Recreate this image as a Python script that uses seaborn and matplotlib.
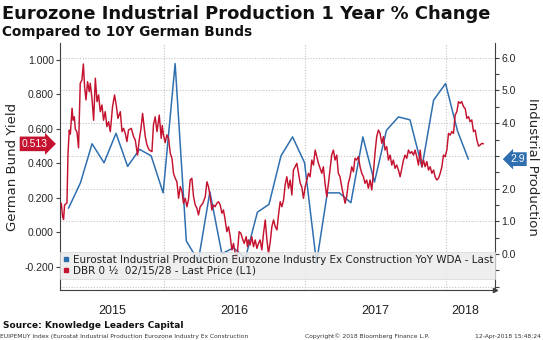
import matplotlib
matplotlib.use("Agg")
import matplotlib.pyplot as plt
import matplotlib.dates as mdates
import matplotlib.transforms as mtransforms
from matplotlib.lines import Line2D
import numpy as np
import pandas as pd
import seaborn as sns

# ---------------- data ----------------
ip_start = "2015-04-30"
ip_yoy = [1.40, 2.18, 3.37, 2.79, 3.69, 2.68, 3.20, 3.00, 1.87, 5.82,
          0.40, -0.21, 1.90, 0.01, 0.19, -0.12, 1.28, 1.52, 3.00, 3.58,
          2.79, -0.27, 1.87, 1.87, 1.57, 3.58, 2.20, 3.78, 4.19, 4.10,
          2.66, 4.70, 5.21, 3.76, 2.90]

bund_t = [2015.275, 2015.284, 2015.291, 2015.298, 2015.315, 2015.322, 2015.331, 2015.339, 2015.351, 2015.358,
          2015.367, 2015.374, 2015.386, 2015.397, 2015.409, 2015.421, 2015.431, 2015.440, 2015.450, 2015.461,
          2015.473, 2015.480, 2015.492, 2015.504, 2015.516, 2015.528, 2015.539, 2015.551, 2015.563, 2015.574,
          2015.586, 2015.598, 2015.610, 2015.622, 2015.638, 2015.652, 2015.664, 2015.676, 2015.693, 2015.705,
          2015.716, 2015.728, 2015.740, 2015.751, 2015.771, 2015.787, 2015.799, 2015.815, 2015.827, 2015.839,
          2015.851, 2015.860, 2015.870, 2015.882, 2015.898, 2015.917, 2015.928, 2015.940, 2015.953, 2015.969,
          2015.983, 2015.990, 2015.999, 2016.011, 2016.023, 2016.035, 2016.047, 2016.059, 2016.070, 2016.082,
          2016.094, 2016.106, 2016.118, 2016.130, 2016.141, 2016.153, 2016.165, 2016.176, 2016.188, 2016.200,
          2016.212, 2016.224, 2016.236, 2016.247, 2016.259, 2016.278, 2016.295, 2016.307, 2016.318, 2016.330,
          2016.342, 2016.353, 2016.365, 2016.377, 2016.389, 2016.401, 2016.413, 2016.424, 2016.436, 2016.448,
          2016.460, 2016.472, 2016.484, 2016.495, 2016.507, 2016.519, 2016.535, 2016.547, 2016.562, 2016.571,
          2016.585, 2016.594, 2016.601, 2016.613, 2016.625, 2016.637, 2016.649, 2016.661, 2016.672, 2016.684,
          2016.696, 2016.708, 2016.720, 2016.732, 2016.743, 2016.755, 2016.767, 2016.779, 2016.791, 2016.803,
          2016.814, 2016.826, 2016.838, 2016.850, 2016.861, 2016.873, 2016.885, 2016.897, 2016.909, 2016.920,
          2016.932, 2016.944, 2016.956, 2016.968, 2016.979, 2016.991, 2017.003, 2017.015, 2017.026, 2017.038,
          2017.050, 2017.062, 2017.074, 2017.086, 2017.097, 2017.109, 2017.121, 2017.132, 2017.144, 2017.156,
          2017.168, 2017.179, 2017.191, 2017.203, 2017.215, 2017.227, 2017.238, 2017.250, 2017.262, 2017.274,
          2017.286, 2017.297, 2017.309, 2017.321, 2017.333, 2017.345, 2017.356, 2017.368, 2017.380, 2017.392,
          2017.404, 2017.416, 2017.427, 2017.439, 2017.451, 2017.463, 2017.475, 2017.486, 2017.498, 2017.510,
          2017.522, 2017.534, 2017.546, 2017.558, 2017.569, 2017.581, 2017.593, 2017.605, 2017.617, 2017.628,
          2017.640, 2017.652, 2017.664, 2017.676, 2017.688, 2017.700, 2017.711, 2017.723, 2017.735, 2017.747,
          2017.759, 2017.771, 2017.782, 2017.794, 2017.806, 2017.818, 2017.830, 2017.842, 2017.853, 2017.865,
          2017.877, 2017.889, 2017.901, 2017.913, 2017.924, 2017.936, 2017.948, 2017.960, 2017.972, 2017.983,
          2017.995, 2018.007, 2018.019, 2018.031, 2018.042, 2018.054, 2018.066, 2018.078, 2018.090, 2018.102,
          2018.113, 2018.125, 2018.137, 2018.149, 2018.161, 2018.172, 2018.184, 2018.196, 2018.208, 2018.220,
          2018.232, 2018.243, 2018.255, 2018.267]
bund_yield = [0.168, 0.090, 0.075, 0.158, 0.170, 0.448, 0.593, 0.570, 0.720, 0.650,
              0.670, 0.600, 0.580, 0.490, 0.865, 0.884, 0.977, 0.845, 0.768, 0.874,
              0.816, 0.865, 0.777, 0.650, 0.894, 0.758, 0.797, 0.700, 0.739, 0.650,
              0.700, 0.613, 0.642, 0.584, 0.729, 0.797, 0.739, 0.661, 0.700, 0.584,
              0.603, 0.574, 0.526, 0.593, 0.603, 0.555, 0.535, 0.448, 0.535, 0.600,
              0.690, 0.623, 0.555, 0.506, 0.477, 0.468, 0.623, 0.670, 0.584, 0.680,
              0.545, 0.620, 0.565, 0.520, 0.565, 0.545, 0.458, 0.429, 0.342, 0.313,
              0.293, 0.197, 0.265, 0.236, 0.168, 0.197, 0.148, 0.187, 0.303, 0.313,
              0.206, 0.158, 0.139, 0.100, 0.148, 0.168, 0.206, 0.293, 0.264, 0.206,
              0.129, 0.158, 0.148, 0.168, 0.177, 0.158, 0.110, 0.129, 0.071, 0.003,
              0.032, -0.026, -0.103, -0.065, -0.123, -0.161, 0.003, -0.006, -0.045, -0.065,
              -0.026, -0.084, -0.045, -0.074, -0.026, -0.084, -0.045, -0.094, -0.065, -0.045,
              -0.103, -0.006, 0.071, -0.045, -0.123, -0.060, 0.032, 0.071, 0.032, 0.013,
              0.100, 0.177, 0.148, 0.187, 0.274, 0.322, 0.255, 0.303, 0.216, 0.361,
              0.380, 0.400, 0.342, 0.284, 0.264, 0.197, 0.264, 0.303, 0.342, 0.322,
              0.419, 0.390, 0.477, 0.438, 0.400, 0.371, 0.342, 0.380, 0.284, 0.206,
              0.284, 0.361, 0.448, 0.477, 0.419, 0.448, 0.342, 0.322, 0.264, 0.216,
              0.168, 0.206, 0.284, 0.322, 0.380, 0.351, 0.429, 0.419, 0.439, 0.380,
              0.342, 0.322, 0.284, 0.303, 0.255, 0.303, 0.245, 0.342, 0.460, 0.555,
              0.593, 0.574, 0.516, 0.555, 0.477, 0.497, 0.419, 0.448, 0.390, 0.419,
              0.371, 0.390, 0.361, 0.322, 0.371, 0.419, 0.448, 0.429, 0.477, 0.458,
              0.468, 0.448, 0.477, 0.438, 0.390, 0.477, 0.380, 0.419, 0.380, 0.410,
              0.361, 0.380, 0.342, 0.361, 0.322, 0.303, 0.313, 0.342, 0.380, 0.448,
              0.438, 0.477, 0.574, 0.564, 0.584, 0.574, 0.680, 0.700, 0.758, 0.749,
              0.758, 0.729, 0.719, 0.661, 0.671, 0.642, 0.652, 0.584, 0.593, 0.535,
              0.500, 0.506, 0.516, 0.513]

title = "Eurozone Industrial Production 1 Year % Change"
subtitle = "Compared to 10Y German Bunds"
label_ip = "Eurostat Industrial Production Eurozone Industry Ex Construction YoY WDA - Last"
label_bund = "DBR 0 \u00bd  02/15/28 - Last Price (L1)"
left_ticks = [-0.2, 0.0, 0.2, 0.4, 0.6, 0.8, 1.0]
right_ticks = [-1, 0, 1, 2, 3, 4, 5, 6]
right_ticklabels = ["", "0.0", "1.0", "2.0", "", "4.0", "5.0", "6.0"]
year_labels = ["2015", "2016", "2017", "2018"]
year_label_dates = ["2015-08-20", "2016-07-02", "2017-07-02", "2018-02-20"]
last_bund_label = "0.513"
last_ip_label = "2.9"

# ---------------- frame ----------------
ip_df = pd.DataFrame({"date": pd.date_range(ip_start, periods=len(ip_yoy), freq="ME"),
                      "value": ip_yoy})
bt = np.array(bund_t)
bund_df = pd.DataFrame({"date": pd.Timestamp("2015-01-01") + pd.to_timedelta((bt - 2015) * 365.25, unit="D"),
                        "value": bund_yield})

sns.set_theme(style="white")
plt.rcParams["font.family"] = ["DejaVu Sans"]

BLUE = "#2f6fb0"
RED = "#c4122f"
GRID = "#c4c4c4"
AXC = "#404040"

fig = plt.figure(figsize=(5.43, 3.40), dpi=100)
ax = fig.add_axes([60 / 543, 1 - 290.4 / 340, 435 / 543, 247.1 / 340])
ax2 = ax.twinx()
ax.yaxis.tick_right()
ax.yaxis.set_label_position("right")
ax2.yaxis.tick_left()
ax2.yaxis.set_label_position("left")

sns.lineplot(data=ip_df, x="date", y="value", ax=ax, color=BLUE, linewidth=1.1)
sns.lineplot(data=bund_df, x="date", y="value", ax=ax2, color=RED, linewidth=1.05)

ax.set_xlim(pd.Timestamp("2015-04-08"), pd.Timestamp("2018-05-08"))
ax.set_ylim(-1.11, 6.44)
ax2.set_ylim(-0.338, 1.097)

# right axis (industrial production)
ax.set_yticks(right_ticks)
ax.set_yticklabels(right_ticklabels, fontsize=7.5, family="Liberation Sans")
ax.set_yticks(np.arange(-0.5, 6.5, 1.0), minor=True)
ax.tick_params(axis="y", which="both", direction="out", length=3, width=0.8,
               color=AXC, pad=1.5, right=True, left=False, labelright=True, labelleft=False)
# left axis (bund)
ax2.set_yticks(left_ticks)
ax2.set_yticklabels([f"{v:.3f}" for v in left_ticks], fontsize=7.5, family="Liberation Sans")
ax2.tick_params(axis="y", which="both", direction="out", length=3, width=0.8,
                color=AXC, pad=1.5, left=True, right=False, labelleft=True, labelright=False)

# x axis
ax.xaxis.set_major_locator(mdates.YearLocator())
ax.xaxis.set_minor_locator(mdates.MonthLocator(bymonth=[4, 7, 10]))
ax.xaxis.set_major_formatter(plt.NullFormatter())
ax.tick_params(axis="x", which="major", direction="out", length=19, width=0.8, color="#b0b0b0")
ax.tick_params(axis="x", which="minor", direction="out", length=2.5, width=0.7, color=AXC)

ax.grid(True, which="major", axis="both", linestyle=(0, (1, 1.5)), color=GRID, linewidth=0.8)
ax2.grid(False)

ax.spines["top"].set_visible(False)
for s in ax2.spines.values():
    s.set_visible(False)
for s in ["left", "right", "bottom"]:
    ax.spines[s].set_color(AXC)
    ax.spines[s].set_linewidth(0.8)
ax.plot([1.0], [0.0], marker=">", markersize=3, color=AXC, transform=ax.transAxes, clip_on=False)

ax.set_xlabel("")
ax.set_ylabel("Industrial Production", fontsize=9.5, rotation=270, va="center")
ax.yaxis.set_label_coords(1.087, 0.5)
ax2.set_ylabel("German Bund Yield", fontsize=9.5, va="center")
ax2.yaxis.set_label_coords(-0.110, 0.5)

# year labels
trans = mtransforms.blended_transform_factory(ax.transData, ax.transAxes)
for lab, d in zip(year_labels, year_label_dates):
    ax.text(mdates.date2num(pd.Timestamp(d)), -0.083, lab, transform=trans, ha="center", va="center",
            fontsize=9, family="Liberation Sans", color="#202020")

# legend
handles = [Line2D([], [], linestyle="none", marker="s", markersize=3.5, color=BLUE),
           Line2D([], [], linestyle="none", marker="s", markersize=3.5, color=RED)]
leg = ax2.legend(handles, [label_ip, label_bund], loc="upper left", bbox_to_anchor=(0, 0, 1, 0.1566),
                 mode="expand", borderaxespad=0, frameon=True, fancybox=False, facecolor="#ececec",
                 edgecolor="#d6d6d6", framealpha=0.85, fontsize=7.5, handlelength=0.6,
                 handletextpad=0.3, labelspacing=0.1, borderpad=0.3)
leg.get_frame().set_linewidth(0.6)
for t in leg.get_texts():
    t.set_color("#202020")

# last value tags
tl = mtransforms.blended_transform_factory(ax2.transAxes, ax2.transData)
ax2.text(-0.0575, bund_yield[-1], last_bund_label, transform=tl, ha="center", va="center",
         fontsize=7.5, color="white", family="Liberation Sans", clip_on=False,
         bbox=dict(boxstyle="rarrow,pad=0.22", fc=RED, ec="none"))
tr = mtransforms.blended_transform_factory(ax.transAxes, ax.transData)
ax.text(1.0517, ip_yoy[-1], last_ip_label, transform=tr, ha="center", va="center",
        fontsize=7.5, color="white", family="Liberation Sans", clip_on=False, zorder=10,
        bbox=dict(boxstyle="larrow,pad=0.18", fc=BLUE, ec="none"))

# titles and footers
fig.text(0.004, 1 - 19 / 340, title, fontsize=12.9, fontweight="bold", va="baseline", ha="left", color="#111111")
fig.text(0.004, 1 - 36.4 / 340, subtitle, fontsize=9.8, fontweight="bold", va="baseline", ha="left", color="#111111")
fig.text(0.005, 1 - 328.3 / 340, "Source: Knowledge Leaders Capital", fontsize=6.5, fontweight="bold",
         va="baseline", ha="left", color="#111111")
fig.text(0.0, 0.006, "EUIPEMUY Index (Eurostat Industrial Production Eurozone Industry Ex Construction",
         fontsize=4.3, va="baseline", ha="left", color="#333333")
fig.text(305 / 543, 0.006, "Copyright\u00a9 2018 Bloomberg Finance L.P.", fontsize=4.3, va="baseline",
         ha="left", color="#333333")
fig.text(0.997, 0.006, "12-Apr-2018 15:48:24", fontsize=4.3, va="baseline", ha="right", color="#333333")

fig.savefig("out.png", dpi=100)
